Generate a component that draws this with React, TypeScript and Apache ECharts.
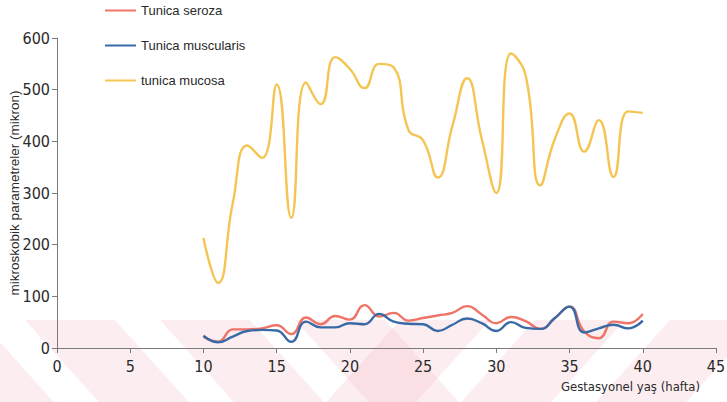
import React, { useEffect, useRef } from "react";
import * as echarts from "echarts";

const weeks = [10, 11, 12, 13, 14, 15, 16, 17, 18, 19, 20, 21, 22, 23, 24, 25, 26, 27, 28, 29, 30, 31, 32, 33, 34, 35, 36, 37, 38, 39, 40];
const seroza = [22, 12, 36, 36, 38, 44, 27, 59, 46, 62, 55, 83, 61, 68, 53, 58, 63, 68, 81, 65, 48, 60, 52, 37, 58, 80, 32, 19, 51, 48, 66];
const muscularis = [24, 11, 22, 33, 35, 34, 12, 51, 40, 40, 48, 46, 66, 51, 47, 46, 33, 45, 57, 48, 33, 50, 39, 37, 58, 80, 30, 38, 45, 38, 53];
const mucosa = [213, 126, 280, 392, 368, 510, 252, 514, 472, 563, 540, 503, 550, 543, 422, 402, 330, 430, 522, 405, 300, 570, 528, 315, 405, 454, 380, 441, 331, 458, 455];

const seriesNames = ["Tunica seroza", "Tunica muscularis", "tunica mucosa"];
const seriesColors = ["#ef7468", "#3a6aa6", "#f4c552"];
const xAxisTitle = "Gestasyonel yaş (hafta)";
const yAxisTitle = "mikroskobik parametreler (mikron)";

const CONDENSED = '"DejaVu Sans Condensed", "Liberation Sans", Arial, sans-serif';
const NORMAL = '"Liberation Sans", Arial, sans-serif';

function watermark() {
  const els: any[] = [];
  const top = 320;
  const bottom = 402;
  const h = bottom - top;
  const slant = 0.9 * h;
  const fill = "rgba(244, 196, 204, 0.3)";
  for (let x = -110; x < 380; x += 135) {
    els.push({
      type: "polygon",
      z: -10,
      silent: true,
      shape: { points: [[x, top], [x + 90, top], [x + 90 + slant, bottom], [x + slant, bottom]] },
      style: { fill },
    });
  }
  for (let x = 400; x < 800; x += 135) {
    els.push({
      type: "polygon",
      z: -10,
      silent: true,
      shape: { points: [[x, top], [x + 90, top], [x + 90 - slant, bottom], [x - slant, bottom]] },
      style: { fill },
    });
  }
  return els;
}

export default function App() {
  const ref = useRef<HTMLDivElement>(null);
  useEffect(() => {
    if (!ref.current) return;
    const chart = echarts.init(ref.current, undefined, { renderer: "svg" });
    const datasets = [seroza, muscularis, mucosa];
    chart.setOption({
      animation: false,
      backgroundColor: "#ffffff",
      graphic: watermark(),
      legend: {
        orient: "vertical",
        left: 100,
        top: -2,
        itemWidth: 31,
        itemHeight: 2,
        itemGap: 20,
        icon: "rect",
        textStyle: { fontFamily: NORMAL, fontSize: 13, lineHeight: 15, color: "#2a2a2a" },
        data: seriesNames,
      },
      grid: { left: 57, right: 11, top: 38, bottom: 54, outerBoundsMode: "none", containLabel: false },
      xAxis: {
        type: "value",
        min: 0,
        max: 45,
        interval: 5,
        name: xAxisTitle,
        nameLocation: "end",
        nameGap: -16,
        nameMoveOverlap: false,
        nameTextStyle: {
          fontFamily: CONDENSED,
          fontSize: 13,
          color: "#2a2a2a",
          align: "right",
          verticalAlign: "top",
          padding: [32, 0, 0, 0],
        },
        axisLine: { show: true, lineStyle: { color: "#7a7a7a", width: 1 } },
        axisTick: { show: true, length: 5, lineStyle: { color: "#7a7a7a" } },
        axisLabel: { margin: 10, fontFamily: CONDENSED, fontSize: 16, color: "#2a2a2a" },
        splitLine: { show: false },
      },
      yAxis: {
        type: "value",
        min: 0,
        max: 600,
        interval: 100,
        name: yAxisTitle,
        nameLocation: "middle",
        nameRotate: 90,
        nameGap: 36,
        nameMoveOverlap: false,
        nameTextStyle: { fontFamily: NORMAL, fontSize: 13.5, color: "#2a2a2a" },
        axisLine: { show: true, lineStyle: { color: "#7a7a7a", width: 1 } },
        axisTick: { show: true, length: 5, lineStyle: { color: "#7a7a7a" } },
        axisLabel: { margin: 7, fontFamily: CONDENSED, fontSize: 16, color: "#2a2a2a" },
        splitLine: { show: false },
      },
      series: seriesNames.map((name, i) => ({
        name,
        type: "line",
        smooth: 0.5,
        showSymbol: false,
        symbol: "none",
        z: i === 2 ? 3 : 4,
        color: seriesColors[i],
        lineStyle: { width: 2.4, color: seriesColors[i] },
        data: weeks.map((w, k) => [w, datasets[i][k]]),
      })),
    });
    return () => chart.dispose();
  }, []);
  return <div ref={ref} style={{ position: "fixed", left: 0, top: 0, width: 727, height: 402 }} />;
}
